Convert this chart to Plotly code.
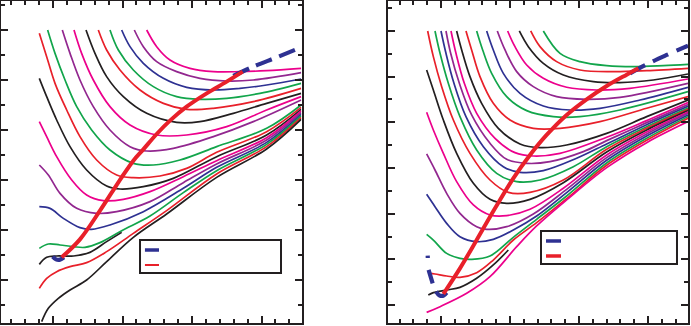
import plotly.graph_objects as go

RED = "#E8202A"; GRN = "#12A54B"; BLU = "#2E3192"; PUR = "#92278F"; MAG = "#EC008C"; BLK = "#231F20"

# ---------------- left panel: isotherm curves ----------------
L1_x = [2.348, 2.492, 2.683, 2.971, 3.307, 3.691, 4.074, 4.57]
L1_y = [6.0, 5.667, 5.4, 5.233, 5.167, 5.167, 5.187, 5.233]
L2_x = [2.170, 2.300, 2.492, 2.779, 3.115, 3.499, 3.882, 4.57]
L2_y = [6.0, 5.667, 5.367, 5.167, 5.033, 4.98, 5.0, 5.147]
L3_x = [1.988, 2.108, 2.300, 2.588, 2.923, 3.307, 3.691, 4.074, 4.57]
L3_y = [6.0, 5.667, 5.333, 5.033, 4.853, 4.8, 4.833, 4.9, 5.02]
L4_x = [1.820, 1.940, 2.156, 2.444, 2.779, 3.115, 3.499, 3.978, 4.57]
L4_y = [6.0, 5.6, 5.2, 4.867, 4.667, 4.613, 4.633, 4.733, 4.933]
L5_x = [1.652, 1.772, 1.964, 2.252, 2.588, 2.923, 3.307, 3.882, 4.57]
L5_y = [6.0, 5.6, 5.2, 4.8, 4.533, 4.413, 4.433, 4.567, 4.833]
L6_x = [1.475, 1.604, 1.772, 2.012, 2.348, 2.779, 3.115, 3.595, 4.074, 4.57]
L6_y = [6.0, 5.533, 5.067, 4.667, 4.333, 4.153, 4.167, 4.333, 4.533, 4.733]
L7_x = [1.302, 1.412, 1.580, 1.820, 2.108, 2.492, 2.923, 3.499, 4.074, 4.57]
L7_y = [6.0, 5.533, 5.0, 4.467, 4.1, 3.9, 3.9, 4.067, 4.4, 4.667]
L8_x = [1.134, 1.245, 1.388, 1.580, 1.820, 2.108, 2.348, 2.731, 3.307, 3.882, 4.57]
L8_y = [6.0, 5.533, 5.0, 4.467, 4.0, 3.667, 3.58, 3.633, 3.867, 4.167, 4.6]
L9_x = [0.923, 1.029, 1.173, 1.341, 1.556, 1.820, 2.156, 2.444, 2.827, 3.355, 4.074, 4.57]
L9_y = [6.0, 5.533, 5.0, 4.467, 4.0, 3.6, 3.333, 3.3, 3.4, 3.667, 4.033, 4.5]
L10_x = [0.803, 0.909, 1.029, 1.197, 1.388, 1.628, 1.916, 2.156, 2.540, 2.923, 3.355, 4.074, 4.57]
L10_y = [5.933, 5.467, 4.933, 4.4, 3.867, 3.4, 3.1, 3.047, 3.08, 3.233, 3.553, 3.967, 4.453]
L11_x = [0.803, 0.909, 1.053, 1.245, 1.484, 1.772, 1.964, 2.300, 2.731, 3.355, 4.074, 4.57]
L11_y = [5.033, 4.667, 4.2, 3.667, 3.2, 2.88, 2.82, 2.867, 3.033, 3.467, 3.9, 4.413]
L12_x = [0.803, 0.909, 1.053, 1.269, 1.484, 1.724, 2.012, 2.396, 2.875, 3.355, 4.074, 4.57]
L12_y = [4.167, 3.867, 3.467, 3.0, 2.7, 2.587, 2.613, 2.767, 3.067, 3.387, 3.847, 4.38]
L13_x = [0.803, 0.933, 1.101, 1.341, 1.628, 1.916, 2.396, 2.875, 3.355, 4.074, 4.57]
L13_y = [3.3, 3.1, 2.733, 2.433, 2.333, 2.367, 2.567, 2.947, 3.32, 3.8, 4.347]
L14_x = [0.803, 0.957, 1.149, 1.388, 1.556, 1.820, 2.300, 2.875, 3.355, 4.074, 4.57]
L14_y = [2.467, 2.433, 2.233, 2.047, 2.013, 2.1, 2.367, 2.833, 3.253, 3.753, 4.313]
L15_x = [0.803, 0.933, 1.101, 1.293, 1.460, 1.676, 1.988, 2.396, 2.875, 3.355, 4.074, 4.57]
L15_y = [1.633, 1.72, 1.7, 1.667, 1.653, 1.747, 1.987, 2.28, 2.747, 3.187, 3.713, 4.28]
L16_x = [0.803, 0.909, 1.053, 1.293, 1.532, 1.772, 1.988]
L16_y = [1.313, 1.453, 1.48, 1.48, 1.553, 1.767, 1.953]
L17_x = [0.803, 0.909, 1.053, 1.245, 1.484, 1.772, 2.156, 2.635, 3.355, 4.074, 4.57]
L17_y = [0.833, 1.033, 1.167, 1.267, 1.347, 1.567, 1.933, 2.387, 3.12, 3.667, 4.247]
L18_x = [0.837, 0.933, 1.077, 1.245, 1.484, 1.772, 2.156, 2.635, 3.355, 4.074, 4.57]
L18_y = [0.167, 0.433, 0.633, 0.8, 1.0, 1.367, 1.853, 2.32, 3.053, 3.62, 4.213]

left_curves = [(L1_x, L1_y, MAG), (L2_x, L2_y, PUR), (L3_x, L3_y, BLU), (L4_x, L4_y, GRN),
               (L5_x, L5_y, RED), (L6_x, L6_y, BLK), (L7_x, L7_y, MAG), (L8_x, L8_y, PUR),
               (L9_x, L9_y, GRN), (L10_x, L10_y, RED), (L11_x, L11_y, BLK), (L12_x, L12_y, MAG),
               (L13_x, L13_y, PUR), (L14_x, L14_y, BLU), (L15_x, L15_y, GRN), (L16_x, L16_y, BLK),
               (L17_x, L17_y, RED), (L18_x, L18_y, BLK)]

# left locus (red) and its dashed continuation (blue)
Lloc_x = [1.125, 1.388, 1.676, 1.844, 1.988, 2.156, 2.300, 2.492, 2.683, 2.923, 3.211, 3.499, 3.729]
Lloc_y = [1.453, 1.813, 2.387, 2.747, 3.053, 3.387, 3.613, 3.92, 4.187, 4.467, 4.733, 4.967, 5.167]
Ldash_x = [3.595, 3.882, 4.218, 4.57]
Ldash_y = [5.08, 5.267, 5.453, 5.653]
Lhook_x = [0.995, 1.043, 1.101, 1.158]
Lhook_y = [1.467, 1.413, 1.407, 1.453]

# ---------------- right panel ----------------
R1_x = [2.483, 2.725, 3.014, 3.401, 3.787, 4.222, 4.58]
R1_y = [7.0, 6.511, 6.329, 6.241, 6.219, 6.241, 6.270]
R2_x = [2.300, 2.435, 2.676, 3.014, 3.498, 3.981, 4.58]
R2_y = [7.0, 6.657, 6.329, 6.146, 6.110, 6.132, 6.183]
R3_x = [2.135, 2.266, 2.483, 2.773, 3.208, 3.594, 4.077, 4.58]
R3_y = [7.0, 6.657, 6.292, 6.037, 5.891, 5.869, 5.927, 6.058]
R4_x = [1.966, 2.072, 2.242, 2.483, 2.821, 3.256, 3.739, 4.58]
R4_y = [7.0, 6.657, 6.256, 5.964, 5.767, 5.708, 5.745, 5.949]
R5_x = [1.816, 1.928, 2.097, 2.338, 2.676, 3.111, 3.594, 4.58]
R5_y = [7.0, 6.584, 6.110, 5.781, 5.562, 5.504, 5.548, 5.854]
R6_x = [1.662, 1.758, 1.903, 2.145, 2.483, 2.870, 3.304, 3.884, 4.58]
R6_y = [7.0, 6.584, 6.073, 5.635, 5.358, 5.270, 5.307, 5.489, 5.767]
R7_x = [1.517, 1.604, 1.734, 1.952, 2.242, 2.628, 3.014, 3.594, 4.58]
R7_y = [7.0, 6.584, 6.073, 5.562, 5.256, 5.124, 5.124, 5.270, 5.672]
R8_x = [1.362, 1.444, 1.565, 1.758, 2.0, 2.338, 2.725, 3.304, 3.981, 4.58]
R8_y = [7.0, 6.584, 6.0, 5.416, 5.051, 4.869, 4.869, 5.015, 5.307, 5.562]
R9_x = [1.227, 1.300, 1.420, 1.589, 1.831, 2.145, 2.435, 2.821, 3.401, 3.981, 4.58]
R9_y = [7.0, 6.584, 6.0, 5.416, 4.869, 4.526, 4.445, 4.504, 4.759, 5.124, 5.489]
R10_x = [1.145, 1.217, 1.338, 1.517, 1.783, 2.072, 2.338, 2.725, 3.401, 3.981, 4.58]
R10_y = [7.0, 6.511, 5.854, 5.197, 4.650, 4.336, 4.263, 4.321, 4.672, 5.037, 5.431]
R11_x = [1.072, 1.140, 1.266, 1.444, 1.710, 1.952, 2.242, 2.580, 3.063, 3.401, 3.981, 4.58]
R11_y = [7.0, 6.511, 5.854, 5.161, 4.540, 4.190, 4.102, 4.139, 4.358, 4.599, 4.993, 5.387]
R12_x = [1.0, 1.072, 1.188, 1.362, 1.614, 1.903, 2.145, 2.483, 2.966, 3.401, 3.981, 4.58]
R12_y = [7.0, 6.511, 5.854, 5.124, 4.467, 4.029, 3.905, 3.942, 4.212, 4.526, 4.949, 5.350]
R13_x = [0.913, 0.986, 1.106, 1.275, 1.517, 1.807, 2.097, 2.435, 2.918, 3.401, 3.981, 4.58]
R13_y = [7.0, 6.511, 5.854, 5.124, 4.394, 3.883, 3.701, 3.737, 4.029, 4.467, 4.905, 5.314]
R14_x = [0.807, 0.889, 1.010, 1.179, 1.420, 1.710, 1.976, 2.290, 2.773, 3.401, 3.981, 4.58]
R14_y = [7.0, 6.438, 5.781, 5.051, 4.321, 3.737, 3.467, 3.467, 3.737, 4.409, 4.869, 5.285]
R15_x = [0.792, 0.889, 1.034, 1.227, 1.469, 1.710, 1.952, 2.290, 2.773, 3.401, 3.981, 4.58]
R15_y = [6.146, 5.708, 5.051, 4.321, 3.664, 3.314, 3.226, 3.314, 3.679, 4.351, 4.832, 5.256]
R16_x = [0.792, 0.889, 1.034, 1.227, 1.469, 1.710, 1.952, 2.290, 2.773, 3.401, 3.981, 4.58]
R16_y = [5.219, 4.832, 4.321, 3.701, 3.190, 2.971, 2.956, 3.095, 3.555, 4.285, 4.788, 5.226]
R17_x = [0.792, 0.913, 1.082, 1.275, 1.517, 1.662, 1.952, 2.338, 2.821, 3.401, 3.981, 4.58]
R17_y = [4.307, 3.956, 3.445, 3.007, 2.715, 2.657, 2.715, 2.993, 3.533, 4.226, 4.745, 5.197]
R18_x = [0.792, 0.913, 1.082, 1.275, 1.517, 1.758, 2.048, 2.386, 2.821, 3.401, 3.981, 4.58]
R18_y = [3.423, 3.153, 2.788, 2.496, 2.387, 2.438, 2.642, 2.949, 3.460, 4.168, 4.701, 5.161]
R19_x = [0.792, 0.889, 1.082, 1.275, 1.444, 1.710, 2.048, 2.386, 2.821, 3.401, 3.981, 4.58]
R19_y = [2.547, 2.423, 2.131, 2.022, 2.000, 2.073, 2.482, 2.876, 3.387, 4.110, 4.650, 5.124]
R20_x = [0.831, 0.913, 1.082, 1.275, 1.517, 1.758, 2.048, 2.386, 2.821, 3.401, 3.981, 4.58]
R20_y = [1.694, 1.679, 1.635, 1.606, 1.708, 1.985, 2.423, 2.803, 3.329, 4.059, 4.606, 5.088]
R21_x = [0.816, 0.889, 1.082, 1.275, 1.517, 1.758, 1.976]
R21_y = [1.219, 1.270, 1.329, 1.387, 1.584, 1.876, 2.204]
R22_x = [0.792, 0.986, 1.372, 1.710, 2.097, 2.386, 2.821, 3.401, 3.981, 4.58]
R22_y = [0.839, 0.964, 1.256, 1.620, 2.277, 2.730, 3.300, 4.007, 4.555, 5.015]

right_curves = [(R1_x, R1_y, GRN), (R2_x, R2_y, RED), (R3_x, R3_y, BLK), (R4_x, R4_y, MAG),
                (R5_x, R5_y, PUR), (R6_x, R6_y, BLU), (R7_x, R7_y, GRN), (R8_x, R8_y, RED),
                (R9_x, R9_y, BLK), (R10_x, R10_y, MAG), (R11_x, R11_y, PUR), (R12_x, R12_y, BLU),
                (R13_x, R13_y, GRN), (R14_x, R14_y, RED), (R15_x, R15_y, BLK), (R16_x, R16_y, MAG),
                (R17_x, R17_y, PUR), (R18_x, R18_y, BLU), (R19_x, R19_y, GRN), (R20_x, R20_y, RED),
                (R21_x, R21_y, BLK), (R22_x, R22_y, MAG)]

Rloc_x = [1.034, 1.275, 1.517, 1.783, 2.048, 2.290, 2.531, 2.821, 3.111, 3.401, 3.691, 3.860]
Rloc_y = [1.241, 1.803, 2.423, 3.117, 3.774, 4.285, 4.723, 5.161, 5.504, 5.796, 6.044, 6.183]
Rdash_x = [3.739, 3.981, 4.271, 4.58]
Rdash_y = [6.073, 6.270, 6.475, 6.68]
Rhook_x = [1.082, 1.034, 0.976, 0.928]
Rhook_y = [1.270, 1.204, 1.212, 1.292]
Rlow_x = [0.879, 0.841, 0.816, 0.812, 0.807, 0.807]
Rlow_y = [1.474, 1.657, 1.788, 1.912, 2.044, 2.080]

fig = go.Figure()

def add(x, y, color, width, xa, ya, dash="solid", shape="spline"):
    fig.add_trace(go.Scatter(x=x, y=y, mode="lines", xaxis=xa, yaxis=ya,
                             line=dict(color=color, width=width, dash=dash, shape=shape, smoothing=1.0),
                             showlegend=False, hoverinfo="skip"))

for cx, cy, col in left_curves:
    add(cx, cy, col, 1.7, "x", "y")
add(Ldash_x, Ldash_y, BLU, 4.2, "x", "y", dash="17px,8px")
add(Lhook_x, Lhook_y, BLU, 4.2, "x", "y")
add(Lloc_x, Lloc_y, RED, 4.0, "x", "y")

for cx, cy, col in right_curves:
    add(cx, cy, col, 1.7, "x2", "y2")
add(Rdash_x, Rdash_y, BLU, 4.2, "x2", "y2", dash="17px,9px")
add(Rhook_x, Rhook_y, BLU, 4.2, "x2", "y2")
add(Rlow_x, Rlow_y, BLU, 4.2, "x2", "y2", dash="14px,12px", shape="linear")
add(Rloc_x, Rloc_y, RED, 4.0, "x2", "y2")

def axis(domain, rng, dtick, mdtick, anchor):
    return dict(domain=domain, range=rng, anchor=anchor, showgrid=False, zeroline=False,
                showline=True, linewidth=2, linecolor=BLK, mirror="allticks",
                ticks="inside", ticklen=7, tickwidth=1.5, tickcolor=BLK, dtick=dtick, tick0=0,
                showticklabels=False,
                minor=dict(ticks="inside", ticklen=4, tickwidth=1.5, tickcolor=BLK,
                           dtick=mdtick, tick0=0, showgrid=False))

fig.update_layout(
    width=691, height=326, margin=dict(l=0, r=0, t=0, b=0),
    paper_bgcolor="white", plot_bgcolor="white",
    xaxis=axis([1 / 691, 301.5 / 691], [0.2518, 4.5755], 1, 0.2, "y"),
    yaxis=axis([3.5 / 326, 325 / 326], [0.15, 6.58], 1, 0.5, "x"),
    xaxis2=axis([388 / 691, 688 / 691], [0.2319, 4.5797], 1, 0.2, "y2"),
    yaxis2=axis([3 / 326, 325 / 326], [0.6059, 7.6565], 1, 0.5, "x2"),
)

# legend boxes (entries without text)
shapes = [
    dict(type="rect", xref="x domain", yref="y domain", x0=0.4626, x1=0.9318, y0=0.154, y1=0.2566,
         line=dict(color=BLK, width=2), fillcolor="white"),
    dict(type="line", xref="x domain", yref="y domain", x0=0.479, x1=0.5258, y0=0.2255, y1=0.2255,
         line=dict(color=BLU, width=3.5)),
    dict(type="line", xref="x domain", yref="y domain", x0=0.479, x1=0.5258, y0=0.1788, y1=0.1788,
         line=dict(color=RED, width=2)),
    dict(type="rect", xref="x2 domain", yref="y2 domain", x0=0.51, x1=0.9633, y0=0.1832, y1=0.2857,
         line=dict(color=BLK, width=2), fillcolor="white"),
    dict(type="line", xref="x2 domain", yref="y2 domain", x0=0.5267, x1=0.5767, y0=0.2547, y1=0.2547,
         line=dict(color=BLU, width=3.5)),
    dict(type="line", xref="x2 domain", yref="y2 domain", x0=0.5267, x1=0.5767, y0=0.2081, y1=0.2081,
         line=dict(color=RED, width=3.5)),
]
fig.update_layout(shapes=shapes)

fig.write_html("out.html")
